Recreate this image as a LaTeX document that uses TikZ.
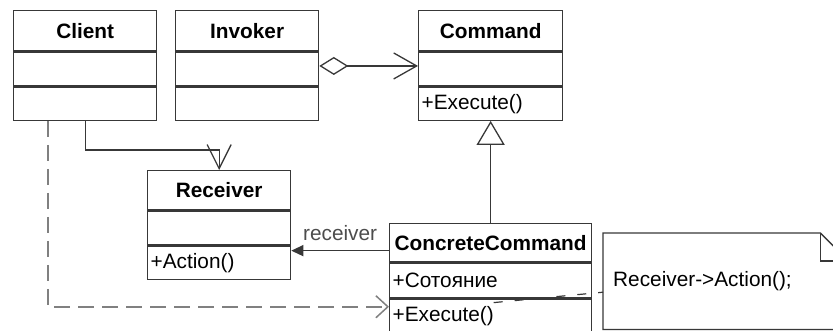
\documentclass[tikz,border=0pt]{standalone}
\usepackage{fontspec}
\setmainfont{Liberation Sans}
\usetikzlibrary{arrows.meta,positioning,calc}

\newcommand{\umlsize}{\fontsize{20.8}{24}\selectfont}
\colorlet{umlline}{black!78}

\tikzset{
  classname/.style={draw=umlline, line width=1.3pt, anchor=north west, minimum width=#1, minimum height=40pt, inner sep=0pt, font=\umlsize\bfseries},
  classpart/.style={draw=umlline, line width=1.3pt, text width=#1, inner xsep=3pt, inner ysep=0pt, minimum height=34pt, align=left, font=\umlsize},
  aggr/.style={umlline, line width=1.3pt, {Diamond[open,length=29pt,width=18pt]}-{Straight Barb[length=23pt,width=26pt]}},
  assoc/.style={umlline, line width=1.3pt, -{Straight Barb[length=24pt,width=24pt]}},
  dep/.style={black!50, line width=1.5pt, dash pattern=on 16pt off 8pt, -{Straight Barb[length=12pt,width=22pt]}},
  generalize/.style={umlline, line width=1.3pt, -{Triangle[open,length=24pt,width=28pt]}},
  navig/.style={umlline, line width=1.3pt, -{Triangle[length=12pt,width=11pt]}},
  notelink/.style={umlline, line width=1.2pt, dash pattern=on 9pt off 12pt}
}

\begin{document}
\begin{tikzpicture}[x=1pt, y=-1pt]
    \useasboundingbox (0,0) rectangle (833,331);

    % classes
    \node[classname=143pt] (client) at (13,10) {Client};
    \node[classpart=137pt, below=0pt of client] (client-attr) {};
    \node[classpart=137pt, below=0pt of client-attr, minimum height=33pt] (client-ops) {};

    \node[classname=143pt] (invoker) at (175,10) {Invoker};
    \node[classpart=137pt, below=0pt of invoker] (invoker-attr) {};
    \node[classpart=137pt, below=0pt of invoker-attr, minimum height=33pt] (invoker-ops) {};

    \node[classname=144pt] (command) at (418,10) {Command};
    \node[classpart=138pt, below=0pt of command] (command-attr) {};
    \node[classpart=138pt, below=0pt of command-attr, minimum height=33pt] (command-ops) {+Execute()};

    \node[classname=143pt, minimum height=39pt] (receiver) at (147,170) {Receiver};
    \node[classpart=137pt, below=0pt of receiver] (receiver-attr) {};
    \node[classpart=137pt, below=0pt of receiver-attr, minimum height=33pt] (receiver-ops) {+Action()};

    \node[classname=202pt, minimum height=38pt] (concrete) at (389,223) {ConcreteCommand};
    \node[classpart=196pt, below=0pt of concrete, minimum height=35pt] (concrete-attr) {+Сотояние};
    \node[classpart=196pt, below=0pt of concrete-attr, minimum height=33pt] (concrete-ops) {+Execute()};

    % note
    \node[anchor=north west, minimum width=245pt, minimum height=96pt, text width=225pt, inner xsep=10pt, align=left, font=\umlsize] (note) at (603,233) {Receiver->Action();};
    \draw[umlline, line width=1.3pt] (note.north west) -- ($(note.north east)+(-28,0)$) -- ($(note.north east)+(0,28)$) -- (note.south east) -- (note.south west) -- cycle;
    \draw[umlline, line width=1.3pt] ($(note.north east)+(-28,0)$) |- ($(note.north east)+(0,28)$);

    % relations
    \draw[aggr] ($(invoker-attr.east)+(0,-3)$) -- ($(command-attr.west)+(0,-3)$);
    \draw[generalize] (concrete.north) -- (command-ops.south);
    \draw[assoc] (client-ops.south) -- ++(0,29) -| (receiver.north);
    \draw[dep] ($(client-ops.south west)+(35,0)$) |- ($(concrete-ops.west)+(0,-9)$);
    \draw[navig] ($(concrete.west)+(0,8)$) -- ($(concrete.west -| receiver-ops.east)+(0,8)$)
        node[midway, above=6pt, text=black!70, font=\umlsize] {receiver};
    \draw[notelink] ($(concrete-ops.north)+(3,4)$) -- ($(note.west)+(0,11)$);
\end{tikzpicture}
\end{document}
